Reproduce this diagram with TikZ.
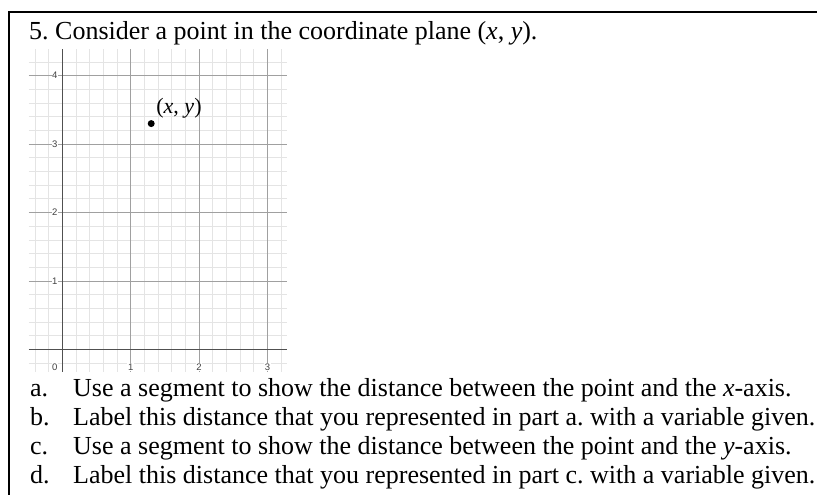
\documentclass[tikz,border=0pt]{standalone}
\usepackage{fontspec}
\setmainfont{Liberation Serif}
\newfontfamily\ggbfont{Liberation Sans}
\usepackage{tikz}
\usetikzlibrary{calc}
\frenchspacing

\definecolor{minorgray}{RGB}{228,228,228}
\definecolor{majorgray}{RGB}{160,160,160}
\definecolor{axisgray}{RGB}{80,80,80}

\tikzset{
  minorline/.style={minorgray, line width=0.7pt},
  majorline/.style={majorgray, line width=0.8pt},
  axisline/.style={axisgray, line width=1.4pt},
  ticklabel/.style={font=\ggbfont\fontsize{9.5}{9.5}\selectfont, text=axisgray!80!black, fill=white, inner sep=0.6pt},
  bigtext/.style={font=\fontsize{26}{29}\selectfont, anchor=base west, inner sep=0pt},
  dot/.style={circle, fill=black, inner sep=0pt, minimum size=7pt}
}

\begin{document}
\begin{tikzpicture}[x=1pt, y=-1pt]
    \fill[white] (0,0) rectangle (817,495);
    \useasboundingbox (0,0) rectangle (817,495);

    % Frame (top and left rules)
    \draw[line width=2pt] (9.2,495) -- (9.2,11.6) -- (817,11.6);

    % Question
    \node[bigtext] (title) at (29,40) {5. Consider a point in the coordinate plane (\textit{x}, \textit{y}).};

    % Coordinate plane
    \begin{scope}[xshift=62.3pt, yshift=-349.3pt, x=68.4pt, y=68.4pt]
        \draw[minorline, step=0.2] (-0.49,-0.33) grid (3.285,4.39);
        \draw[majorline, step=1] (-0.49,-0.33) grid (3.285,4.39);

        % Axes
        \draw[axisline] (-0.49,0) -- (3.285,0);
        \draw[axisline] (0,-0.33) -- (0,4.39);

        % Tick labels
        \node[ticklabel] (xlab0) at (-0.11,-0.255) {0};
        \foreach \k in {1,2,3}
            \node[ticklabel] (xlab\k) at (\k,-0.255) {\k};
        \foreach \k in {1,2,3,4}
            \node[ticklabel] (ylab\k) at (-0.11,\k) {\k};

        % The point
        \node[dot] (pt) at (1.30,3.30) {};
        \node[font=\fontsize{22}{22}\selectfont, inner sep=0pt] (ptlabel) at (1.706,3.53) {(\textit{x}, \textit{y})};
    \end{scope}

    % Parts a to d
    \node[bigtext] (laba) at (30,396) {a.};
    \node[bigtext] (texta) at (73,396) {Use a segment to show the distance between the point and the \textit{x}-axis.};
    \node[bigtext] (labb) at (30,425) {b.};
    \node[bigtext] (textb) at (73,425) {Label this distance that you represented in part a. with a variable given.};
    \node[bigtext] (labc) at (30,454) {c.};
    \node[bigtext] (textc) at (73,454) {Use a segment to show the distance between the point and the \textit{y}-axis.};
    \node[bigtext] (labd) at (30,483) {d.};
    \node[bigtext] (textd) at (73,483) {Label this distance that you represented in part c. with a variable given.};
\end{tikzpicture}
\end{document}
